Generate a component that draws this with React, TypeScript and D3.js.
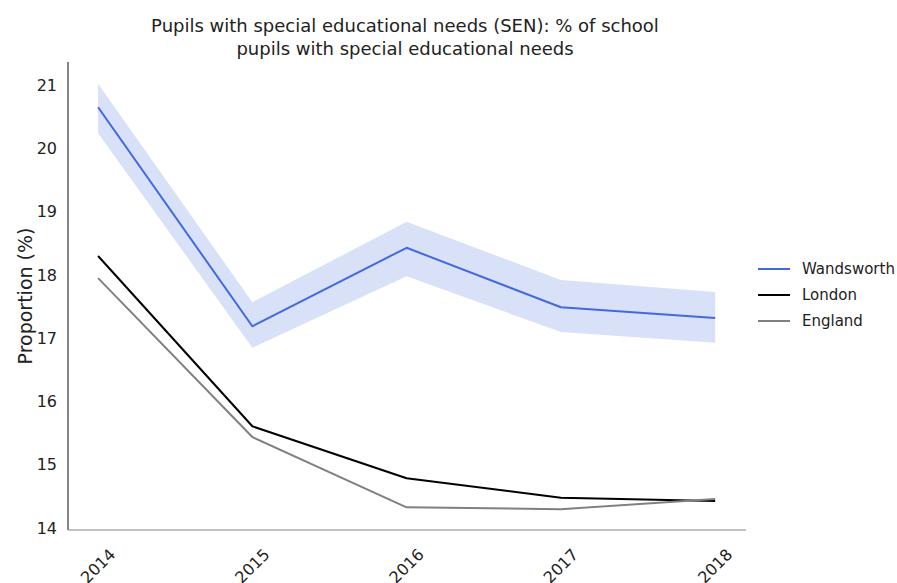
import React from "react";
import * as d3 from "d3";

const years = [2014, 2015, 2016, 2017, 2018];
const wandsworth = [20.65, 17.19, 18.43, 17.49, 17.32];
const wandsworthLow = [20.24, 16.85, 17.98, 17.1, 16.93];
const wandsworthHigh = [21.02, 17.57, 18.84, 17.92, 17.73];
const london = [18.3, 15.61, 14.79, 14.48, 14.43];
const england = [17.95, 15.44, 14.33, 14.3, 14.46];
const yTicks = [14, 15, 16, 17, 18, 19, 20, 21];
const seriesNames = ["Wandsworth", "London", "England"];
const seriesColors = ["#4169e1", "#000000", "#808080"];

const W = 897;
const H = 583;
const left = 68;
const right = 746;
const top = 62;
const bottom = 530;
const FONT = "DejaVu Sans, sans-serif";

export default function App() {
  const x = d3.scaleLinear().domain([2013.805, 2018.2]).range([left, right]);
  const y = d3.scaleLinear().domain([14, 21]).range([528.2, 85.1]);

  const line = d3
    .line<number>()
    .x((_, i) => x(years[i]))
    .y((d) => y(d));
  const area = d3
    .area<number>()
    .x((_, i) => x(years[i]))
    .y0((_, i) => y(wandsworthLow[i]))
    .y1((d) => y(d));

  const data = [wandsworth, london, england];

  return (
    <svg
      width={W}
      height={H}
      style={{ position: "absolute", left: 0, top: 0, background: "#fff" }}
      fontFamily={FONT}
    >
      <text x={405} y={32} textAnchor="middle" fontSize={18} fill="#222">
        Pupils with special educational needs (SEN): % of school
      </text>
      <text x={405} y={55} textAnchor="middle" fontSize={18} fill="#222">
        pupils with special educational needs
      </text>

      <path d={area(wandsworthHigh) || ""} fill="#4169e1" fillOpacity={0.2} />
      {data.map((s, i) => (
        <path
          key={seriesNames[i]}
          d={line(s) || ""}
          fill="none"
          stroke={seriesColors[i]}
          strokeWidth={2}
          strokeLinejoin="round"
        />
      ))}

      <line x1={left} x2={left} y1={top} y2={bottom} stroke="#333" strokeWidth={1.2} />
      <line x1={left} x2={right} y1={bottom} y2={bottom} stroke="#888" strokeWidth={1.2} />

      {yTicks.map((t) => (
        <text
          key={t}
          x={57}
          y={y(t)}
          textAnchor="end"
          dominantBaseline="central"
          fontSize={16}
          fill="#222"
        >
          {t}
        </text>
      ))}
      {years.map((yr) => (
        <text
          key={yr}
          transform={`translate(${x(yr)},566) rotate(-45)`}
          textAnchor="middle"
          dominantBaseline="central"
          fontSize={16}
          fill="#222"
        >
          {yr}
        </text>
      ))}
      <text
        transform={`translate(25,${(227 + 365) / 2}) rotate(-90)`}
        textAnchor="middle"
        dominantBaseline="central"
        fontSize={19}
        fill="#222"
      >
        Proportion (%)
      </text>

      {seriesNames.map((n, i) => (
        <g key={n} transform={`translate(758,${269 + i * 26})`}>
          <line x1={0} x2={32} y1={0} y2={0} stroke={seriesColors[i]} strokeWidth={2} />
          <text x={44} y={0} dominantBaseline="central" fontSize={15} fill="#222">
            {n}
          </text>
        </g>
      ))}
    </svg>
  );
}
